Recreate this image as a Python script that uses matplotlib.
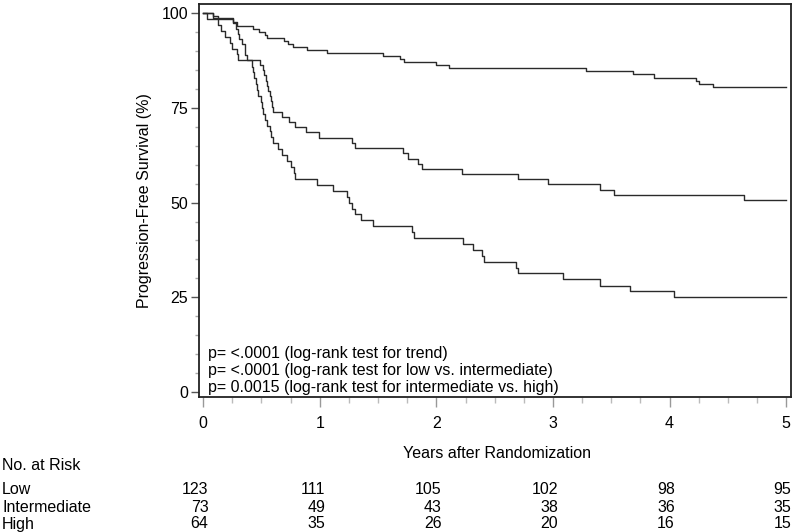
import matplotlib
matplotlib.use("Agg")
import matplotlib.pyplot as plt
from matplotlib.ticker import MultipleLocator

plt.rcParams['font.family'] = ['Liberation Sans', 'DejaVu Sans']

# Kaplan-Meier steps (years, % progression-free)
low_t = [0, 0.088, 0.13, 0.26, 0.29, 0.43, 0.48, 0.53, 0.55, 0.69, 0.73, 0.77,
         0.89, 1.06, 1.54, 1.69, 1.72, 2.00, 2.11, 3.28, 3.69, 3.87, 4.23, 4.25,
         4.37, 5.0]
low_s = [100, 99.2, 98.4, 97.6, 96.7, 95.9, 95.1, 94.3, 93.5, 92.7, 91.9, 91.1,
         90.2, 89.4, 88.6, 87.8, 87.0, 86.2, 85.4, 84.6, 83.8, 83.0, 82.1, 81.3,
         80.5, 80.5]

mid_t = [0, 0.088, 0.26, 0.28, 0.30, 0.31, 0.33, 0.355, 0.36, 0.38, 0.49, 0.51,
         0.52, 0.54, 0.55, 0.56, 0.57, 0.58, 0.59, 0.60, 0.675, 0.74, 0.79, 0.88,
         0.99, 1.28, 1.30, 1.71, 1.76, 1.84, 1.88, 2.22, 2.70, 2.96, 3.40, 3.52,
         4.64, 5.0]
mid_s = [100, 98.6, 97.3, 95.9, 94.5, 93.2, 91.8, 90.4, 89.0, 87.7, 86.3, 84.9,
         83.6, 82.2, 80.8, 79.5, 78.1, 76.7, 75.3, 74.0, 72.6, 71.2, 69.9, 68.5,
         67.1, 65.8, 64.4, 63.0, 61.6, 60.3, 58.9, 57.5, 56.2, 54.8, 53.4, 52.1,
         50.7, 50.7]

high_t = [0, 0.032, 0.13, 0.155, 0.19, 0.23, 0.25, 0.29, 0.30, 0.42, 0.43, 0.44,
          0.45, 0.46, 0.47, 0.495, 0.505, 0.51, 0.53, 0.55, 0.575, 0.58, 0.60,
          0.64, 0.68, 0.72, 0.75, 0.78, 0.79, 0.975, 1.115, 1.23, 1.25, 1.28,
          1.30, 1.35, 1.455, 1.79, 1.81, 2.23, 2.31, 2.39, 2.41, 2.68, 2.70,
          3.09, 3.40, 3.66, 4.04, 5.0]
high_s = [100, 98.4, 96.9, 95.3, 93.8, 92.2, 90.6, 89.1, 87.5, 85.9, 84.4, 82.8,
          81.3, 79.7, 78.1, 76.6, 75.0, 73.4, 71.9, 70.3, 68.8, 67.2, 65.6,
          64.1, 62.5, 60.9, 59.4, 57.8, 56.3, 54.7, 53.1, 51.6, 50.0, 48.4,
          46.9, 45.3, 43.8, 42.2, 40.6, 39.1, 37.5, 35.9, 34.4, 32.8, 31.3,
          29.7, 28.1, 26.6, 25.0, 25.0]

groups = ['Low', 'Intermediate', 'High']
risk_years = [0, 1, 2, 3, 4, 5]
at_risk = {
    'Low': [123, 111, 105, 102, 98, 95],
    'Intermediate': [73, 49, 43, 38, 36, 35],
    'High': [64, 35, 26, 20, 16, 15],
}

p_lines = [
    'p= <.0001 (log-rank test for trend)',
    'p= <.0001 (log-rank test for low vs. intermediate)',
    'p= 0.0015 (log-rank test for intermediate vs. high)',
]

fig = plt.figure(figsize=(8, 5.32), dpi=100)
ax = fig.add_axes([0.249, 0.2538, 0.740, 0.7387])

for t, s in [(low_t, low_s), (mid_t, mid_s), (high_t, high_s)]:
    ax.step(t, s, where='post', color='#2a2a2a', lw=1.0)

ax.set_xlim(-0.034, 5.043)
ax.set_ylim(-1.3, 102.4)
ax.xaxis.set_major_locator(MultipleLocator(1))
ax.xaxis.set_minor_locator(MultipleLocator(0.25))
ax.yaxis.set_major_locator(MultipleLocator(25))
ax.yaxis.set_minor_locator(MultipleLocator(5))
ax.tick_params(axis='x', which='major', length=7, width=1, color='#999999',
               labelsize=11.5, pad=7)
ax.tick_params(axis='x', which='minor', length=4, width=1, color='#bbbbbb')
ax.tick_params(axis='y', which='major', length=6, width=1, color='#555555',
               labelsize=11.5, pad=2)
ax.tick_params(axis='y', which='minor', length=3, width=1, color='#aaaaaa')
for sp in ax.spines.values():
    sp.set_color('#222222')
    sp.set_linewidth(1.3)

ax.set_ylabel('Progression-Free Survival (%)', fontsize=11.5, labelpad=7)

for i, line in enumerate(p_lines):
    ax.text(0.04, 10.3 - i * 4.6, line, fontsize=11.5, va='center', ha='left')

fig.text(497 / 800, 1 - 453 / 532, 'Years after Randomization', fontsize=11.5,
         ha='center', va='center')
fig.text(2 / 800, 1 - 466 / 532, 'No. at Risk', fontsize=11.5, ha='left', va='center')

row_y = [489, 507, 524]
for g, py in zip(groups, row_y):
    yf = 1 - py / 532
    fig.text(2 / 800, yf, g, fontsize=11.5, ha='left', va='center')
    for yr, n in zip(risk_years, at_risk[g]):
        xf = fig.transFigure.inverted().transform(ax.transData.transform((yr + 0.045, 0)))[0]
        fig.text(xf, yf, str(n), fontsize=11.5, ha='right', va='center')

fig.savefig('out.png', dpi=100)
